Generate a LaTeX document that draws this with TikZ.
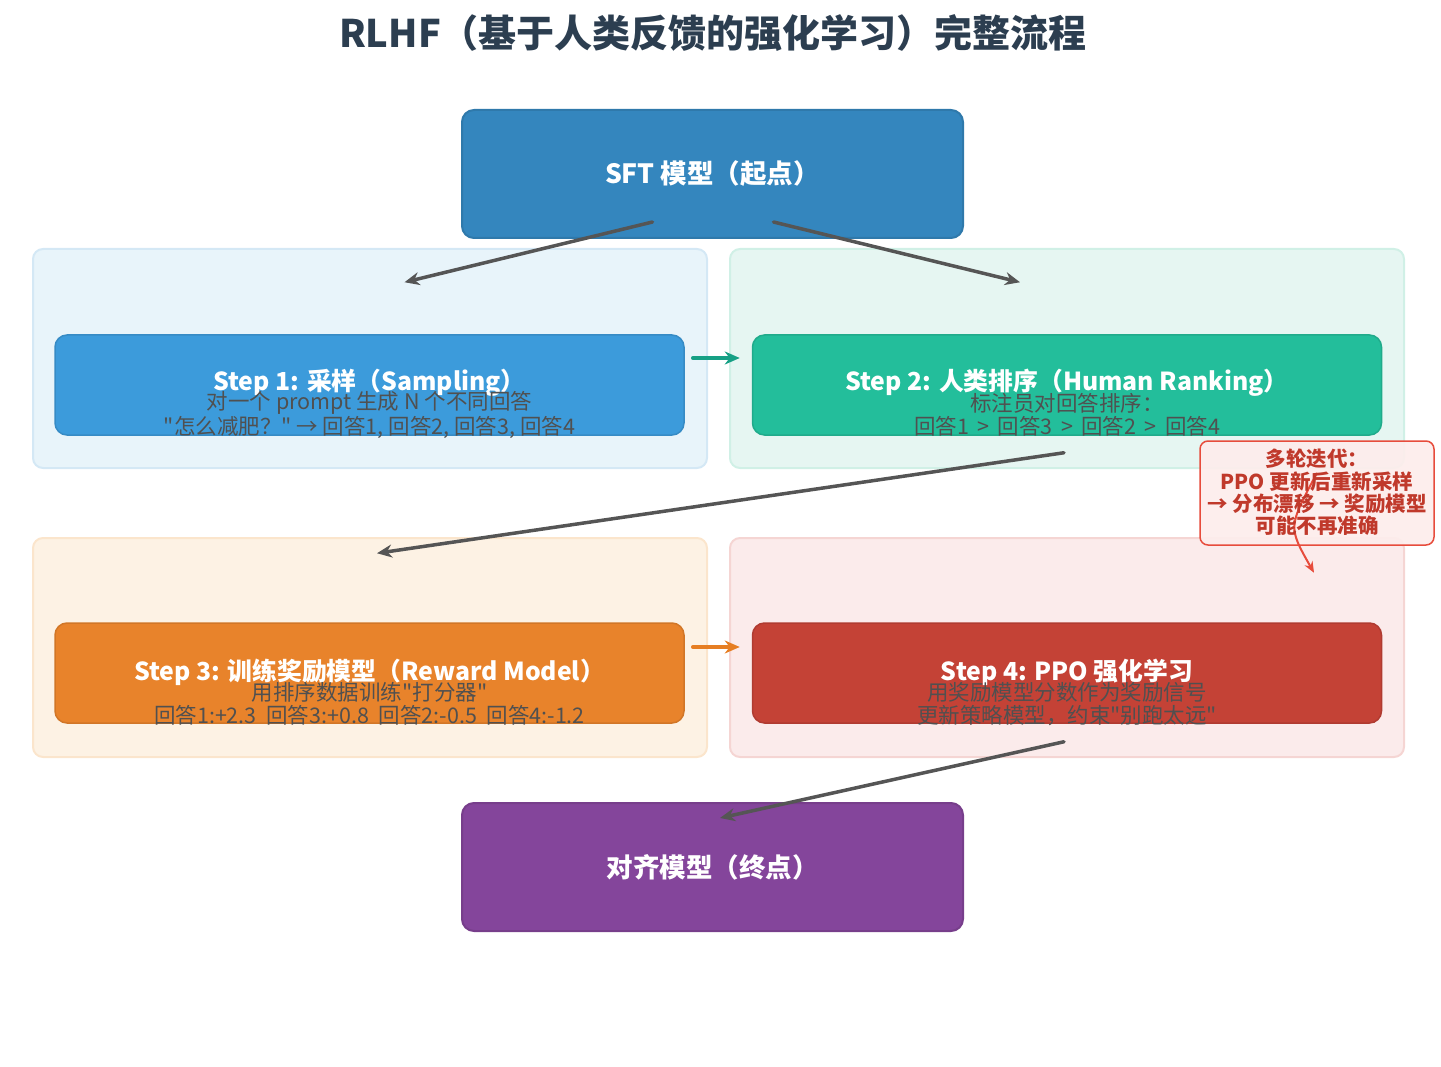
\documentclass[tikz,border=0pt]{standalone}
\usepackage{fontspec}
\setmainfont{Noto Sans CJK SC}[Ligatures=TeXOff]
\usetikzlibrary{calc,arrows.meta}

\definecolor{titlecol}{HTML}{2C3E50}
\definecolor{sftcol}{HTML}{3486BE}
\definecolor{onecol}{HTML}{3C9BDB}
\definecolor{twocol}{HTML}{23BE9B}
\definecolor{threecol}{HTML}{E8832B}
\definecolor{fourcol}{HTML}{C44236}
\definecolor{endcol}{HTML}{84459B}
\definecolor{subgray}{HTML}{505050}
\definecolor{flowgray}{HTML}{555555}
\definecolor{notered}{HTML}{E74C3C}
\definecolor{notetext}{HTML}{C0392B}

\tikzset{
  panel/.style={draw, rounded corners=10pt, line width=2pt, minimum width=674pt, minimum height=219pt, inner sep=0pt},
  stepbox/.style={draw, rounded corners=12pt, line width=1.5pt, minimum width=629pt, minimum height=100pt, inner sep=0pt},
  bigbox/.style={draw, rounded corners=12pt, line width=2pt, minimum width=501pt, minimum height=128pt, inner sep=0pt, text=white, font=\bfseries\fontsize{26.5}{30}\selectfont},
  steptitle/.style={text=white, inner sep=0pt, font=\bfseries\fontsize{24.8}{28}\selectfont},
  subtext/.style={text=subgray, align=center, inner sep=0pt, font=\fontsize{21.5}{22.5}\selectfont},
  flow/.style={draw=flowgray, line width=3.5pt, line cap=round, -{Stealth[length=15pt,width=13pt]}},
}

\begin{document}
\begin{tikzpicture}[x=1pt,y=-1pt]
\useasboundingbox (0,0) rectangle (1441,1067);

\node[text=titlecol, font=\bfseries\fontsize{38}{42}\selectfont] (title) at (713,33) {RLHF（基于人类反馈的强化学习）完整流程};

% background panels
\node[panel, fill={rgb,255:red,232;green,244;blue,250}, draw={rgb,255:red,212;green,232;blue,245}] (p1) at (370,358.5) {};
\node[panel, fill={rgb,255:red,230;green,246;blue,242}, draw={rgb,255:red,208;green,240;blue,230}] (p2) at (1067,358.5) {};
\node[panel, fill={rgb,255:red,253;green,242;blue,228}, draw={rgb,255:red,251;green,229;blue,204}] (p3) at (370,647.5) {};
\node[panel, fill={rgb,255:red,251;green,235;blue,235}, draw={rgb,255:red,245;green,213;blue,211}] (p4) at (1067,647.5) {};

\node[bigbox, fill=sftcol, draw=sftcol!90!black] (sft) at (712.5,174) {SFT 模型（起点）};
\node[bigbox, fill=endcol, draw=endcol!90!black] (endm) at (712.5,867) {对齐模型（终点）};

\node[stepbox, fill=onecol, draw=onecol!90!black] (step1) at (369.5,385) {};
\node[stepbox, fill=twocol, draw=twocol!90!black] (step2) at (1067,385) {};
\node[stepbox, fill=threecol, draw=threecol!90!black] (step3) at (369.5,673) {};
\node[stepbox, fill=fourcol, draw=fourcol!90!black] (step4) at (1067,673) {};

\node[steptitle] (t1) at ($(step1)+(0,-2)$) {Step 1: 采样（Sampling）};
\node[subtext] (d1) at ($(step1)+(0,30)$) {对一个 prompt 生成 N 个不同回答\\"怎么减肥？" → 回答1, 回答2, 回答3, 回答4};
\node[steptitle] (t2) at ($(step2)+(0,-2)$) {Step 2: 人类排序（Human Ranking）};
\node[subtext] (d2) at ($(step2)+(0,30)$) {标注员对回答排序：\\回答1 \,>\, 回答3 \,>\, 回答2 \,>\, 回答4};
\node[steptitle] (t3) at ($(step3)+(0,-1)$) {Step 3: 训练奖励模型（Reward Model）};
\node[subtext] (d3) at ($(step3)+(0,31)$) {用排序数据训练"打分器"\\回答1:+2.3\ \ 回答3:+0.8\ \ 回答2:-0.5\ \ 回答4:-1.2};
\node[steptitle] (t4) at ($(step4)+(0,-1)$) {Step 4: PPO 强化学习};
\node[subtext] (d4) at ($(step4)+(0,31)$) {用奖励模型分数作为奖励信号\\更新策略模型，约束"别跑太远"};

% connectors
\coordinate (sftL) at ($(sft.south)+(-60,-17)$);
\coordinate (sftR) at ($(sft.south)+(61,-17)$);
\coordinate (in1) at ($(step1.north)+(35,-52)$);
\coordinate (in2) at ($(step2.north)+(-47,-52)$);
\coordinate (out2) at ($(step2.south)+(-3,17)$);
\coordinate (in3) at ($(step3.north)+(7.5,-69)$);
\coordinate (out4) at ($(step4.south)+(-3,18)$);
\coordinate (inEnd) at ($(endm.north)+(7.5,16)$);

\draw[flow] (sftL) -- (in1);
\draw[flow] (sftR) -- (in2);
\draw[flow] (out2) -- (in3);
\draw[flow] (out4) -- (inEnd);
\draw[flow, draw={rgb,255:red,22;green,160;blue,133}] ($(step1.east)+(8,-27)$) -- ($(step2.west)+(-12,-27)$);
\draw[flow, draw={rgb,255:red,230;green,126;blue,34}] ($(step3.east)+(8,-26)$) -- ($(step4.west)+(-12,-26)$);

% iteration note
\node[draw=notered, line width=1.5pt, fill={rgb,255:red,253;green,237;blue,236}, fill opacity=0.92, rounded corners=8pt, minimum width=234pt, minimum height=104pt, inner sep=0pt] (note) at (1317,493) {};
\coordinate (noteEnd) at ($(note.south)+(-3,27)$);
\draw[draw=notered, line width=2pt, -{Stealth[length=11pt,width=9pt]}] ($(note.center)+(0,-20)$) .. controls ($(note.center)+(-29,34)$) .. (noteEnd);
\node[text=notetext, align=center, inner sep=0pt, font=\bfseries\fontsize{20.5}{22.3}\selectfont] (notetxt) at (1317,492.5) {多轮迭代：\\PPO 更新后重新采样\\→ 分布漂移 → 奖励模型\\可能不再准确};

\end{tikzpicture}
\end{document}
